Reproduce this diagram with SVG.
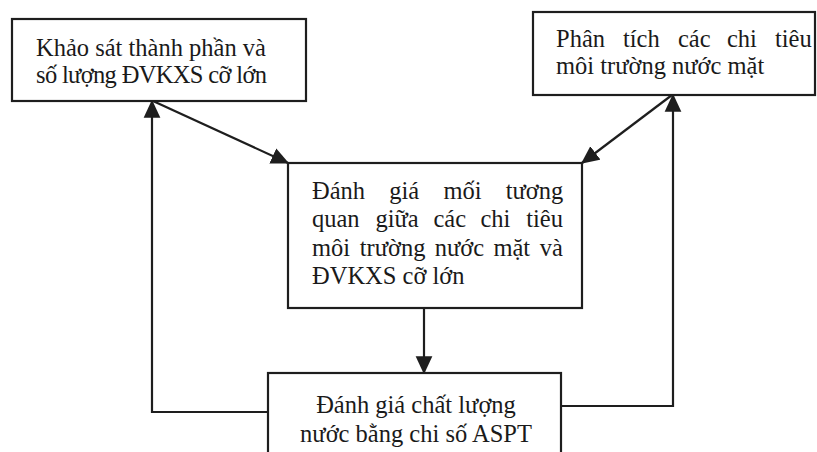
<svg xmlns="http://www.w3.org/2000/svg" width="817" height="452" viewBox="0 0 817 452">
<defs>
<style>
.box{fill:#fff;stroke:#1e1e1e;stroke-width:2.2}
.t{font-family:"Liberation Serif","Times New Roman",serif;font-size:24.5px;fill:#1a1a1a}
.c{fill:none;stroke:#1e1e1e;stroke-width:2.2}
</style>
<marker id="ah" markerUnits="userSpaceOnUse" markerWidth="18" markerHeight="18" viewBox="0 0 14 14" refX="13" refY="7" orient="auto">
<path d="M0,0.5 L14,7 L0,13.5 z" fill="#1e1e1e"/>
</marker>
</defs>
<rect width="817" height="452" fill="#fff"/>
<g id="connectors">
<path class="c" d="M153,101 L288,163" marker-end="url(#ah)"/>
<path class="c" d="M672,95 L582,163" marker-end="url(#ah)"/>
<path class="c" d="M424,308 L424,373" marker-end="url(#ah)"/>
<path class="c" d="M268,412 L152,412 L152,101" marker-end="url(#ah)"/>
<path class="c" d="M561,406 L673,406 L673,95" marker-end="url(#ah)"/>
</g>
<g id="node-khao-sat">
<rect class="box" x="12" y="19" width="294" height="82"/>
<text class="t" x="36" y="56">Khảo sát thành phần và</text>
<text class="t" x="36" y="83" textLength="231" lengthAdjust="spacing">số lượng ĐVKXS cỡ lớn</text>
</g>
<g id="node-phan-tich">
<rect class="box" x="533" y="12" width="282" height="83"/>
<text class="t" y="47"><tspan x="556">Phân</tspan><tspan x="623">tích</tspan><tspan x="678">các</tspan><tspan x="727">chi</tspan><tspan x="775">tiêu</tspan></text>
<text class="t" x="556" y="74">môi trường nước mặt</text>
</g>
<g id="node-danh-gia-tuong-quan">
<rect class="box" x="288" y="163" width="294" height="145"/>
<text class="t" y="199"><tspan x="312">Đánh</tspan><tspan x="389.3">giá</tspan><tspan x="443.4">mối</tspan><tspan x="505.7">tương</tspan></text>
<text class="t" y="227"><tspan x="312">quan</tspan><tspan x="375.4">giữa</tspan><tspan x="433.4">các</tspan><tspan x="480.5">chi</tspan><tspan x="526.2">tiêu</tspan></text>
<text class="t" y="256"><tspan x="312">môi</tspan><tspan x="359.7">trường</tspan><tspan x="434.7">nước</tspan><tspan x="493.4">mặt</tspan><tspan x="539.8">và</tspan></text>
<text class="t" x="312" y="284">ĐVKXS cỡ lớn</text>
</g>
<g id="node-aspt">
<rect class="box" x="268" y="373" width="293" height="100"/>
<text class="t" x="416" y="413" text-anchor="middle">Đánh giá chất lượng</text>
<text class="t" x="416" y="442" text-anchor="middle">nước bằng chi số ASPT</text>
</g>
</svg>
